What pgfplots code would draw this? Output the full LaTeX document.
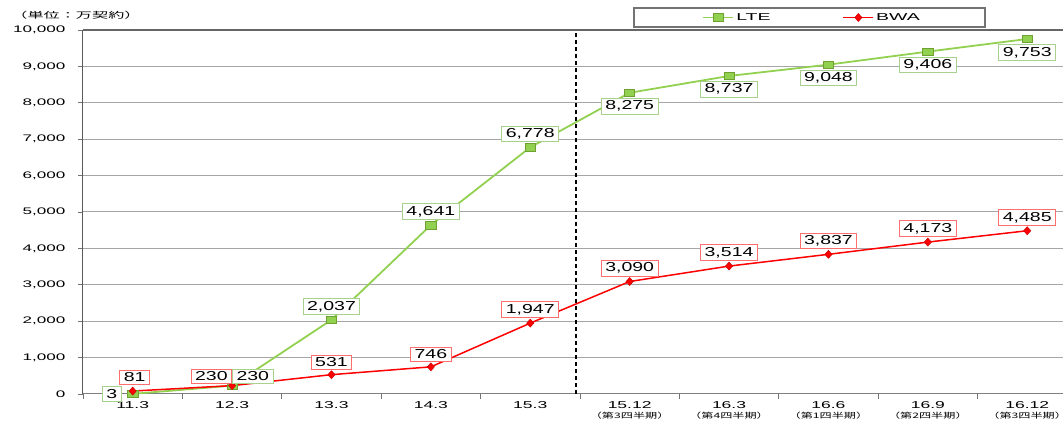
\documentclass[border=0pt]{standalone}
\usepackage{pgfplots}
\usepackage{pgfplotstable}
\pgfplotsset{compat=1.18}
\usepackage{fontspec}
\setmainfont{Liberation Sans}
\newfontfamily\ytfont[FakeStretch=1.8]{Liberation Sans}
\newfontfamily\xtfont[FakeStretch=1.75]{Liberation Sans}
\newfontfamily\lgfont[FakeStretch=1.95]{Liberation Sans}
\newfontfamily\lblfont[FakeStretch=1.5]{Liberation Sans}
\newfontfamily\cjk[FakeStretch=1.62]{Noto Sans CJK JP}
\newfontfamily\cjkwide[FakeStretch=1.9]{Noto Sans CJK JP}

\definecolor{lteg}{RGB}{146,208,80}
\definecolor{ltegd}{RGB}{110,160,50}
\definecolor{lteb}{RGB}{169,209,142}
\definecolor{bwar}{RGB}{255,0,0}
\definecolor{bwab}{RGB}{255,110,110}

% x = category index (0 = 11.3 ... 9 = 16.12)
\pgfplotstableread{
x y
0 3
1 230
2 2037
3 4641
4 6778
5 8275
6 8737
7 9048
8 9406
9 9753
}\lte

\pgfplotstableread{
x y
0 81
1 230
2 531
3 746
4 1947
5 3090
6 3514
7 3837
8 4173
9 4485
}\bwa

\pgfplotsset{
  ltestyle/.style={color=lteg, line width=1.8pt, mark=square*,
    mark options={fill=lteg, draw=ltegd, line width=0.6pt, xscale=1.35, mark size=3.8pt}},
  bwastyle/.style={color=bwar, line width=1.5pt, mark=diamond*,
    mark options={fill=bwar, draw=bwar!80!black, line width=0.5pt, xscale=1.2, mark size=4pt}},
  % value boxes: #1 border colour, #2 extra node options
  vlabel/.style 2 args={draw=none, mark=none, forget plot,
    nodes near coords={\lblfont\fontsize{13}{15}\selectfont\pgfmathprintnumber[fixed,precision=0]{\pgfplotspointmeta}},
    every node near coord/.append style={draw=#1, fill=white, line width=0.9pt, text=black,
      inner xsep=4pt, inner ysep=2.5pt, #2},
  },
}

\begin{document}
\begin{tikzpicture}
\path[use as bounding box] (-83pt,-29pt) rectangle (980pt,394pt);
\begin{axis}[
    at={(0,0)}, anchor=south west,
    scale only axis,
    width=980pt, height=364pt,
    xmin=-0.5, xmax=9.36,
    ymin=0, ymax=10000,
    axis lines*=left,
    x axis line style={draw=black!50, line width=1pt},
    y axis line style={draw=black!65, line width=1pt},
    clip=false,
    scaled y ticks=false,
    /pgf/number format/.cd, 1000 sep={,}, assume math mode=true, /pgfplots/.cd,
    ytick={0,1000,...,10000},
    yticklabel style={font=\ytfont\fontsize{9.5}{11}\selectfont, xshift=-9pt},
    xtick={-0.5,0.5,...,8.5},
    xticklabels={},
    tick align=outside,
    major tick length=5pt,
    tick style={draw=black!55, line width=0.8pt},
    extra x ticks={0,...,9},
    extra x tick labels={11.3,12.3,13.3,14.3,15.3,
      {15.12\\[-1.5pt]\cjk\fontsize{7.5}{8.5}\selectfont（第3四半期）},
      {16.3\\[-1.5pt]\cjk\fontsize{7.5}{8.5}\selectfont（第4四半期）},
      {16.6\\[-1.5pt]\cjk\fontsize{7.5}{8.5}\selectfont（第1四半期）},
      {16.9\\[-1.5pt]\cjk\fontsize{7.5}{8.5}\selectfont（第2四半期）},
      {16.12\\[-1.5pt]\cjk\fontsize{7.5}{8.5}\selectfont（第3四半期）}},
    extra x tick style={major tick length=0pt,
      xticklabel style={font=\xtfont\fontsize{10}{11.5}\selectfont, align=center, yshift=-4pt}},
    ymajorgrids=true,
    major grid style={draw=black!35, line width=1pt},
    legend columns=2,
    legend style={at={(0.744,1.0343)}, anchor=center, draw=none, fill=none,
      font=\lgfont\fontsize{10}{11}\selectfont,
      /tikz/every even column/.append style={column sep=70pt}},
    legend image code/.code={\draw[mark repeat=2,mark phase=2,#1]
      plot coordinates {(0pt,0pt)(15pt,0pt)(30pt,0pt)};},
]
\draw[black, line width=1.6pt, dash pattern=on 4pt off 3pt]
  (axis cs:4.46,0) -- (axis cs:4.46,10000);
\draw[black!60, line width=1.2pt] (axis cs:-0.5,10000) -- (axis cs:9.36,10000);

\addplot[ltestyle] table[x=x, y=y] {\lte};
\addlegendentry{LTE}
\addplot[bwastyle] table[x=x, y=y] {\bwa};
\addlegendentry{BWA}

% LTE value boxes
\addplot[vlabel={lteb}{anchor=east, xshift=-11pt}] table[x=x, y=y, restrict x to domain=-0.1:0.1] {\lte};
\addplot[vlabel={lteb}{anchor=south west, yshift=2pt}] table[x=x, y=y, restrict x to domain=0.9:1.1] {\lte};
\addplot[vlabel={lteb}{anchor=south, yshift=5pt}] table[x=x, y=y, restrict x to domain=1.9:4.1] {\lte};
\addplot[vlabel={lteb}{anchor=north, yshift=-5pt}] table[x=x, y=y, restrict x to domain=4.9:9.1] {\lte};
% BWA value boxes
\addplot[vlabel={bwab}{anchor=south, xshift=2pt, yshift=6pt}] table[x=x, y=y, restrict x to domain=-0.1:0.1] {\bwa};
\addplot[vlabel={bwab}{anchor=south east, yshift=2pt}] table[x=x, y=y, restrict x to domain=0.9:1.1] {\bwa};
\addplot[vlabel={bwab}{anchor=south, yshift=5pt}] table[x=x, y=y, restrict x to domain=1.9:9.1] {\bwa};
\end{axis}
\draw[black!55, line width=1.2pt] (551pt,367pt) rectangle (902pt,386pt);
\node[font=\cjkwide\fontsize{8.5}{10}\selectfont] at (-7pt,379pt) {（単位：万契約）};
\end{tikzpicture}
\end{document}
